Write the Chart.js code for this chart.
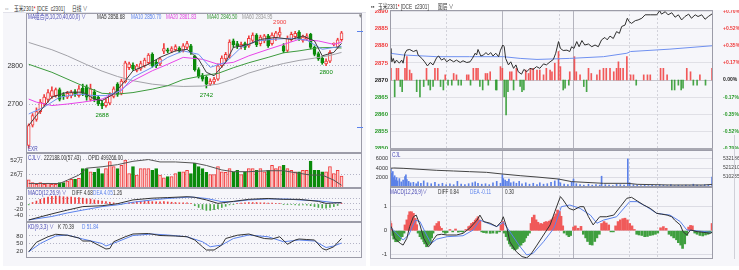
<!DOCTYPE html>
<html><head><meta charset="utf-8">
<script src="https://cdn.jsdelivr.net/npm/chart.js@4.4.1/dist/chart.umd.min.js"></script>
<style>
html,body{margin:0;padding:0;background:#fff;}
body{width:739px;height:270px;position:relative;overflow:hidden;}
.a{position:absolute;}
.t{position:absolute;font-size:6.5px;line-height:7px;white-space:nowrap;color:#333;font-family:"Liberation Sans","Noto Sans CJK SC",sans-serif;transform:scaleX(0.72);transform-origin:0 0;z-index:5;}
canvas{position:absolute;}
</style></head><body>
<div class="a" style="left:3px;top:12px;width:363px;height:254px;background:#f6f6fa"></div>
<div class="a" style="left:370px;top:10px;width:369px;height:256px;background:#f6f6fa"></div>
<div class="a" style="left:3px;top:1px;width:363px;height:11px;background:#fff;border-bottom:1px solid #e2e2ea"></div>
<div class="a" style="left:370px;top:0px;width:369px;height:10px;background:#fff"></div>

<script>
// ---------------- DAILY (left) DATA ----------------
const tickLabels = ['2022/08/01','2022/09/01','2022/10/10','2022/11/01','2022/11/24'];
const tickIdx = [4, 27, 47, 63, 81];
const open  = [2592,2645,2660,2680,2700,2712,2720,2722,2738,2725,2718,2722,2732,2722,2742,2745,2712,2732,2718,2702,2696,2702,2720,2752,2728,2758,2795,2802,2788,2792,2800,2808,2830,2810,2805,2838,2842,2838,2842,2846,2840,2848,2852,2825,2790,2775,2770,2752,2758,2765,2800,2818,2825,2865,2858,2850,2858,2852,2866,2880,2858,2865,2878,2858,2872,2880,2852,2840,2868,2876,2888,2866,2870,2882,2848,2832,2820,2805,2812,2856,2850,2868];
const high  = [2648,2675,2690,2712,2725,2738,2745,2742,2742,2730,2733,2736,2738,2748,2752,2750,2752,2738,2722,2708,2712,2730,2745,2756,2765,2812,2810,2808,2804,2812,2820,2832,2834,2815,2822,2858,2846,2850,2855,2850,2858,2864,2856,2828,2795,2780,2774,2766,2770,2805,2826,2835,2868,2870,2864,2862,2862,2878,2886,2884,2880,2882,2882,2886,2890,2900,2858,2878,2888,2890,2892,2880,2884,2885,2852,2836,2825,2818,2840,2860,2872,2890];
const low   = [2585,2640,2655,2675,2695,2705,2715,2718,2708,2712,2714,2716,2720,2718,2722,2710,2708,2706,2696,2688,2692,2698,2716,2720,2724,2755,2790,2788,2784,2788,2796,2804,2796,2795,2800,2832,2834,2834,2838,2834,2836,2844,2830,2786,2768,2760,2742,2748,2752,2762,2796,2812,2820,2848,2845,2844,2842,2848,2860,2850,2852,2860,2848,2854,2866,2875,2834,2836,2864,2870,2866,2862,2866,2844,2826,2814,2804,2800,2808,2852,2846,2864];
const close = [2644,2670,2680,2705,2718,2730,2735,2738,2712,2720,2728,2730,2725,2740,2728,2718,2740,2712,2700,2695,2705,2725,2740,2725,2760,2808,2805,2792,2800,2806,2815,2828,2800,2800,2818,2845,2838,2845,2850,2838,2852,2858,2835,2790,2772,2765,2752,2760,2765,2800,2820,2830,2862,2855,2852,2856,2848,2872,2880,2855,2875,2878,2852,2880,2886,2888,2838,2872,2882,2885,2870,2875,2878,2848,2830,2818,2808,2812,2835,2857,2868,2886];
const volWan = [15,10,7,10,7,9,7,7,10,10,13,16,16,18,36,36,30,29,36,27,36,49,40,36,42,52,27,40,24,36,36,36,33,36,24,19,21,21,27,30,30,33,27,46,40,36,29,25,25,40,30,29,36,30,33,25,30,36,36,33,36,30,33,42,36,40,42,36,33,30,30,33,33,50,33,33,30,30,40,27,33,22];
const oiWan = [[0,51.0],[8,51.0],[10,53.1],[13,56.3],[15,60.6],[19,61.5],[23,62.8],[27,64.9],[31,66.0],[34,64.5],[38,64.5],[43,63.8],[46,62.3],[50,59.5],[53,58.4],[57,58.4],[62,59.0],[66,59.0],[70,57.4],[73,56.3],[76,56.3],[79,53.1],[81,49.93]];
const ma5  = [[0,2644],[2,2670],[6,2718],[10,2731],[14,2731],[17,2713],[19,2709],[22,2726],[25,2761],[27,2787],[31,2804],[34,2822],[38,2839],[41,2843],[44,2817],[46,2783],[48,2774],[51,2809],[53,2848],[57,2856],[60,2869],[64,2874],[68,2869],[71,2878],[74,2865],[76,2826],[79,2835],[81,2858.68]];
const ma10 = [[0,2674],[4,2692],[8,2718],[13,2726],[17,2722],[20,2722],[24,2735],[27,2770],[32,2796],[36,2822],[40,2839],[44,2830],[47,2796],[51,2809],[55,2848],[59,2865],[63,2869],[68,2872],[72,2867],[76,2843],[79,2848],[81,2850.7]];
const ma20 = [[0,2713],[2,2705],[6,2696],[10,2700],[14,2705],[19,2713],[23,2731],[27,2761],[32,2787],[36,2804],[40,2822],[45,2817],[49,2804],[53,2809],[57,2826],[62,2843],[66,2856],[70,2869],[75,2865],[79,2856],[81,2861.83]];
const ma40 = [[0,2804],[6,2783],[13,2752],[19,2728],[23,2726],[27,2730],[32,2739],[36,2748],[40,2764],[45,2774],[49,2780],[53,2795],[57,2808],[62,2822],[66,2834],[70,2839],[75,2847],[79,2848],[81,2846.5]];
const ma60 = [[0,2861],[6,2842],[10,2826],[15,2803],[19,2786],[23,2772],[27,2761],[32,2752],[36,2748],[40,2746],[45,2747],[49,2752],[53,2765],[57,2781],[62,2796],[66,2806],[70,2814],[74,2820],[78,2827],[81,2834.95]];
const macdHist = [-3,5,10,16,20,24,26,27,26,25,24,24,22,22,20,18,17,14,12,10,8,6,4,2,-2,2,4,6,8,9,10,10,8,7,7,8,7,6,5,4,4,4,2,-6,-12,-18,-22,-22,-20,-16,-12,-8,-3,-1,2,3,4,5,5,5,4,4,3,3,2,2,-1,-1,-2,-3,-4,-3,-4,-6,-9,-12,-14,-14,-12,-9,-5,1.26];
const diffD = [[0,-55],[6,-34],[10,-21],[14,-9],[19,-6],[23,1],[27,14],[32,20],[36,22],[41,25],[43,23],[46,14],[49,2],[53,9],[57,16],[62,19],[66,16],[70,16],[75,9],[77,2],[81,4.68]];
const deaD  = [[0,-55],[6,-43],[10,-31],[14,-21],[19,-9],[23,-3],[27,6],[32,14],[36,19],[42,24],[46,19],[50,8],[53,8],[57,14],[62,17],[67,17],[70,14],[75,11],[79,5],[81,4.05]];
const kD = [[0,17],[2,55],[5,77],[7,87],[10,83],[13,72],[14,60],[16,60],[18,44],[20,28],[21,30],[22,57],[25,77],[27,88],[31,90],[34,82],[38,80],[41,77],[43,64],[45,37],[46,24],[48,24],[50,44],[51,70],[54,83],[57,88],[61,70],[63,68],[65,77],[67,47],[69,64],[70,68],[72,66],[74,64],[76,30],[77,24],[79,37],[81,70.39]];
const dD = [[0,17],[3,50],[7,80],[10,84],[14,68],[19,50],[20,40],[23,57],[27,82],[32,88],[36,84],[41,77],[45,57],[47,37],[50,44],[53,70],[57,84],[62,77],[66,57],[70,64],[74,60],[77,34],[79,40],[81,51.84]];
const markIdx = [19, 46, 65, 77];
const markType = ['low','low','high','low'];

// ---------------- INTRADAY (right) DATA ----------------
const REF = 2870;
const timeTicks = [0, 60, 120, 180, 225, 285, 345];
const timeLabels = ['21:00','22:00','9:00','10:00','11:00','14:00','15:00'];
const vlineMin = [60, 120, 180, 195, 255, 285];
const vlineStrong = [false, true, false, true, false, false];
const pricePts = [[0,2879.2],[1,2877.8],[2,2875.3],[3.5,2876.3],[5,2874.9],[7,2875.8],[10,2874.9],[12.5,2875.8],[14,2874.9],[16,2877.8],[18,2878.7],[21,2878.9],[25,2878.3],[28.5,2878.7],[30,2877.3],[34,2876.3],[37,2875.3],[40,2874.1],[43,2875.1],[46,2874.4],[50,2876.6],[52,2877.0],[55,2875.8],[58,2876.3],[60.5,2875.3],[64,2876.0],[68,2875.3],[71,2875.8],[75,2875.1],[78,2875.6],[82,2875.1],[85.5,2875.3],[88,2876.3],[91,2877.8],[92.5,2877.3],[94,2878.9],[97,2877.0],[100,2877.3],[102.5,2878.0],[105,2877.3],[107.5,2878.0],[110,2877.0],[113,2877.8],[116,2876.8],[118,2878.7],[120.5,2880.2],[122,2879.7],[123.5,2876.3],[126.5,2874.4],[129,2875.3],[132,2873.4],[134.5,2874.4],[137,2872.4],[140.5,2871.7],[143,2873.1],[146,2872.4],[149.5,2873.4],[153,2873.1],[156.5,2873.9],[160,2873.4],[164,2874.7],[167,2874.4],[171,2875.3],[174.5,2876.0],[177,2877.8],[180,2881.2],[182,2879.2],[185,2878.6],[189,2878.7],[192,2878.3],[194,2879.7],[196.5,2879.2],[199.5,2881.2],[202,2879.7],[205,2881.5],[208,2880.2],[212,2880.5],[215.5,2879.7],[219,2880.2],[222.5,2879.7],[226,2881.7],[229.5,2882.4],[232,2881.7],[235,2882.8],[238.5,2882.1],[242,2884.1],[245,2883.6],[247.5,2885.6],[251,2886.0],[253.5,2888.0],[255.5,2887.0],[258,2886.5],[262,2887.3],[265,2887.5],[269,2888.0],[272.5,2889.0],[278,2889.0],[285,2889.0],[288,2890.2],[290,2889.2],[294,2889.9],[297,2889.0],[301,2889.6],[304.5,2888.3],[308,2889.0],[311.5,2887.5],[315,2888.5],[319,2889.2],[322,2888.0],[326,2889.0],[329,2888.5],[333,2889.0],[336.5,2887.7],[340,2888.5],[344.7,2889.4]];
const avgPts = [[0,2877.8],[14,2877.3],[50,2876.8],[85,2876.8],[121,2876.8],[139,2876.3],[157,2876.0],[192,2876.3],[228,2876.8],[253,2877.8],[257,2878.3],[299,2879.0],[345,2880.0]];
const diffBars = [[1,3.4],[5,-4.9],[7,3.4],[9,3.4],[11,-1.9],[13,-3.4],[16,3.4],[18,6.8],[21,2.9],[23,1.9],[28.5,-3.4],[32,-4.9],[36,-1.9],[39,3.4],[41,-1.5],[43,-2.9],[46,-1.9],[48,3.4],[51,3.4],[54,-1.9],[57,-2.9],[59,1.5],[62,-1.5],[66,-1.5],[68,1.9],[71,1.5],[73,-1.5],[76,-1.5],[82,1.5],[84,1.5],[86,-1.5],[89,3.4],[92,3.4],[94,3.4],[96,-1.9],[99,-2.9],[102,1.9],[104,1.9],[105,-1.5],[107,2.4],[113,-2.9],[114,-2.9],[118,3.9],[120,3.4],[122,-4.9],[124,-10.2],[126,-3.4],[128,2.4],[130,2.4],[132,-2.9],[135,3.4],[139,-1.9],[141,-3.4],[143,-2.9],[145,2.9],[148,1.9],[150,3.4],[153,3.4],[157,2.9],[160,2.9],[164,1.5],[167,3.4],[171,2.9],[173,2.4],[176,4.9],[180,8.3],[182,3.9],[185,-2.9],[187,-2.4],[191,-1.5],[192,2.4],[197,6.8],[199,2.4],[203,1.5],[207,-1.9],[210,-3.4],[212,3.4],[215,1.9],[221,1.5],[224,2.9],[228,3.4],[231,3.4],[235,3.4],[239,2.4],[242,3.4],[244,5.3],[246,3.4],[249,3.4],[253,6.8],[257,1.5],[260,1.5],[263,-1.5],[271,1.5],[275,1.5],[278,1.5],[289,3.4],[292,3.4],[296,1.5],[301,-2.9],[304,-2.9],[308,-1.5],[311,-2.9],[313,-2.4],[317,3.4],[321,2.4],[324,-1.5],[328,-1.5],[331,1.5],[337,-1.5],[344,3.4]];
const volPts = [[0,6500],[1,3800],[2,2900],[3,3300],[4,2000],[5,2400],[6,1500],[7,2000],[8,1300],[10,1800],[12,1100],[14,1500],[16,2200],[17,2600],[18,1600],[20,1200],[22,900],[25,1000],[28,700],[30,1100],[33,800],[36,1300],[40,900],[44,700],[48,1000],[52,600],[56,800],[60,500],[64,700],[68,500],[72,1200],[76,600],[80,500],[84,700],[88,900],[91,1100],[94,800],[98,600],[102,700],[106,500],[110,900],[114,1200],[118,800],[120,2600],[121,1800],[123,1500],[125,1200],[127,1700],[129,900],[132,1100],[135,800],[138,1200],[141,700],[145,900],[149,600],[153,800],[157,500],[160,900],[164,600],[168,700],[172,1000],[176,1300],[180,1700],[182,900],[186,600],[190,500],[194,1100],[196,1700],[199,700],[203,500],[207,400],[212,600],[216,400],[220,500],[224,400],[226,2300],[230,500],[234,400],[238,300],[242,600],[246,500],[250,400],[254,6000],[256,900],[260,500],[264,400],[268,300],[272,500],[276,300],[280,400],[284,300],[288,500],[292,400],[296,300],[300,500],[304,300],[308,400],[312,300],[316,400],[320,300],[324,600],[328,400],[332,300],[336,500],[340,400],[344,2100]];
const oiPts = [[0,520600],[4,521000],[14,520600],[32,519400],[50,518200],[68,517400],[85,516600],[103,515800],[120,513800],[139,511800],[157,510200],[180,507800],[194,504700],[228,502700],[254,502700],[264,501500],[299,500700],[335,500700],[345,501500]];
const oiTicks = [510235, 521210, 532186];
const iDiff = [[0,0.24],[2,0.10],[5,-0.32],[11,-0.53],[14,-0.6],[18,-0.32],[21,0.17],[25,0.58],[28,0.65],[32,0.24],[36,-0.32],[41,-0.67],[43,-0.6],[46,-0.39],[50,-0.18],[55,-0.15],[61,-0.18],[71,-0.18],[78,-0.11],[85,0.10],[93,0.44],[96,0.65],[100,0.38],[107,0.31],[114,0.17],[119,0.38],[121,0.58],[125,0.10],[128,-0.46],[135,-0.88],[141,-1.08],[146,-1.13],[150,-1.01],[157,-0.6],[164,-0.18],[171,0.24],[176,0.79],[182,1.42],[185,1.28],[191,0.93],[196,0.86],[203,1.0],[207,1.0],[212,0.58],[217,0.24],[224,0.58],[231,0.58],[239,0.65],[246,1.0],[253,1.35],[258,1.39],[264,1.24],[271,1.07],[278,0.93],[285,0.72],[290,0.69],[296,0.65],[301,0.58],[304,0.44],[310,0.24],[313,-0.04],[317,-0.18],[321,0.03],[328,-0.04],[335,-0.07],[342,-0.11],[345,-0.04]];
const iDea = [[0,0.17],[7,-0.11],[14,-0.39],[20,-0.18],[27,0.44],[32,0.38],[39,-0.18],[44,-0.53],[50,-0.35],[61,-0.25],[78,-0.21],[89,0.03],[96,0.44],[103,0.33],[114,0.17],[121,0.35],[128,-0.04],[139,-0.67],[146,-1.01],[153,-0.94],[164,-0.46],[175,0.10],[183,1.0],[192,1.07],[203,0.93],[214,0.65],[221,0.31],[228,0.44],[242,0.58],[256,1.21],[264,1.21],[274,1.0],[285,0.72],[299,0.65],[310,0.38],[317,0.03],[328,-0.01],[345,-0.07]];
const iHist = [[0,0.4],[1,0.3],[3,-0.2],[4,-0.35],[6,-0.46],[8,-0.46],[10,-0.42],[11,-0.35],[13,-0.25],[15,-0.1],[16,0.24],[18,0.45],[20,0.65],[21,0.79],[23,0.79],[25,0.72],[27,0.51],[28.5,0.25],[30,-0.1],[32,-0.25],[34,-0.35],[36,-0.46],[37,-0.55],[39,-0.67],[41,-0.6],[43,-0.53],[44.5,-0.3],[46,-0.1],[48,0.2],[50,0.3],[52,0.38],[53,0.17],[55,0.1],[57,-0.06],[59,-0.11],[61,-0.08],[64,0.05],[67,-0.05],[70,0.07],[73,-0.06],[75.5,-0.04],[78,-0.06],[81,0.05],[84,0.17],[85.5,0.2],[87,0.3],[89,0.35],[91,0.44],[92.5,0.5],[94,0.58],[96,0.44],[98,-0.05],[100,-0.08],[103,-0.1],[107,-0.11],[110,-0.1],[114,-0.11],[117,-0.05],[118.5,0.25],[120.5,0.38],[122,-0.1],[124,-0.25],[126,-0.4],[127.5,-0.55],[129,-0.65],[131,-0.75],[133,-0.8],[134.6,-0.78],[136,-0.74],[138,-0.65],[140,-0.6],[142,-0.5],[143.5,-0.45],[145,-0.3],[147,-0.2],[149,-0.1],[150.6,0.3],[152,0.55],[154,0.65],[156,0.45],[158,0.35],[159.5,0.25],[161,0.3],[163,0.28],[165,0.35],[166.7,0.38],[168.5,0.35],[170,0.4],[172,0.45],[174,0.5],[175.5,0.58],[177,0.7],[179,0.86],[181,0.8],[182.7,0.6],[184.5,0.2],[186,-0.1],[189,-0.18],[191,-0.25],[193,-0.2],[196,0.15],[198,0.2],[201,0.1],[204,0.18],[206.5,-0.15],[209,-0.3],[211,-0.45],[213.7,-0.58],[216,-0.6],[218.7,-0.45],[221,-0.3],[223.6,-0.15],[226,0.3],[228.6,0.38],[231,0.32],[233.6,0.24],[236,-0.05],[238.6,-0.05],[241,0.2],[243.6,0.38],[246,0.45],[248.6,0.5],[251,0.52],[253.6,0.45],[256,0.3],[258.5,0.2],[261,0.05],[263.5,-0.15],[266,-0.18],[269,-0.2],[272,-0.25],[275,-0.24],[278,-0.2],[280.6,-0.18],[283.5,-0.15],[286,-0.1],[289,0.12],[292,0.17],[295,0.1],[298,-0.15],[300.6,-0.22],[303,-0.3],[306,-0.38],[308,-0.5],[310.5,-0.6],[312.5,-0.74],[314.8,-0.55],[317,-0.2],[319,0.15],[321,0.22],[323,0.2],[325.5,-0.1],[328,-0.15],[331,-0.2],[334,-0.22],[337,-0.18],[339.7,-0.15],[342,-0.1],[344,0.3]];

// ---------------- HELPERS ----------------
const RED = '#f03c3c', GREEN = '#0a8a0a', BG = '#f6f6fa', BLUE = '#5b82ec';
const FONT = '"Liberation Sans","DejaVu Sans",sans-serif';
Chart.defaults.font.family = FONT;
Chart.defaults.font.size = 6;
Chart.defaults.color = '#333';

function fitW(w){ return s => { s.width = w; s.paddingTop = 0; s.paddingBottom = 0; s.paddingLeft = 0; s.paddingRight = 0; }; }
function fitH(h){ return s => { s.height = h; s.paddingTop = 0; s.paddingBottom = 0; s.paddingLeft = 0; s.paddingRight = 0; }; }
function setTicks(arr){ return s => { s.ticks = arr.map(v => ({value: v})); }; }
const P = arr => arr.map(([x, y]) => ({x, y}));
const plain = v => String(v);

const frame = { id: 'frame', afterDraw(ch){ const c = ch.ctx, r = ch.chartArea; c.save(); c.strokeStyle = '#9c9ca8'; c.lineWidth = 1;
  c.strokeRect(Math.round(r.left) + 0.5, Math.round(r.top) + 0.5, Math.round(r.right - r.left) - 1, Math.round(r.bottom - r.top) - 1); c.restore(); } };
const vlines = { id: 'vlines', beforeDatasetsDraw(ch){ const c = ch.ctx, xs = ch.scales.x, r = ch.chartArea; c.save(); c.lineWidth = 1;
  vlineMin.forEach((m, k) => { const px = Math.round(xs.getPixelForValue(m)) + 0.5; c.strokeStyle = vlineStrong[k] ? '#b4b4be' : '#d2d2da'; c.setLineDash(vlineStrong[k] ? [] : [2, 2]);
  c.beginPath(); c.moveTo(px, r.top); c.lineTo(px, r.bottom); c.stroke(); }); c.restore(); } };
const marks = { id: 'marks', afterDatasetsDraw(ch){ const c = ch.ctx, xs = ch.scales.x, ys = ch.scales.y; c.save(); c.font = '6px ' + FONT; c.textAlign = 'center'; c.textBaseline = 'middle';
  markIdx.forEach((i, k) => { const hi = markType[k] === 'high'; const v = hi ? high[i] : low[i]; c.fillStyle = hi ? RED : GREEN;
  c.fillText(String(v), xs.getPixelForValue(i), ys.getPixelForValue(v) + (hi ? -5 : 7)); }); c.restore(); } };

function mk(left, top, w, h, cfg){
  const cv = document.createElement('canvas'); cv.width = w; cv.height = h;
  cv.style.left = left + 'px'; cv.style.top = top + 'px'; cv.style.width = w + 'px'; cv.style.height = h + 'px';
  document.body.appendChild(cv);
  cfg.options = Object.assign({ responsive: false, maintainAspectRatio: false, animation: false, devicePixelRatio: 1, events: [],
    plugins: { legend: { display: false }, tooltip: { enabled: false } } }, cfg.options);
  return new Chart(cv, cfg);
}
function xLeft(show){
  return { type: 'linear', min: -0.7, max: 86.3, offset: false, display: show, grid: { display: false }, border: { display: false },
    afterBuildTicks: setTicks(tickIdx), afterFit: fitH(show ? 12 : 0),
    ticks: { autoSkip: false, maxRotation: 0, color: '#777', padding: 3, font: { size: 5.5 }, callback: (v, i) => tickLabels[i] } };
}
function yAx(min, max, tk, cb, fsize){
  return { type: 'linear', position: 'left', min, max, afterBuildTicks: setTicks(tk), afterFit: fitW(26),
    grid: { color: '#b4b4c6', drawTicks: false }, border: { display: false, dash: [1, 2] },
    ticks: { padding: 3, color: '#333', autoSkip: false, font: { size: fsize || 6 }, callback: cb || plain } };
}
function xRight(show){
  return { type: 'linear', min: 0, max: 345, offset: false, display: true, grid: { display: false }, border: { display: false },
    afterBuildTicks: setTicks(timeTicks), afterFit: fitH(show ? 11 : 0),
    ticks: { display: show, autoSkip: false, maxRotation: 0, color: '#777', padding: 3, font: { size: 5.5 }, callback: (v, i) => timeLabels[i] } };
}
const idx = open.map((_, i) => i);
const isUp = i => close[i] >= open[i];
const line = (data, color, axis) => ({ type: 'line', data, borderColor: color, borderWidth: 1, pointRadius: 0, tension: 0, yAxisID: axis || 'y', order: 0 });

// ---------------- LEFT: MAIN CANDLES ----------------
mk(0, 13, 366, 140, { type: 'bar', data: { datasets: [
  line(P(ma5), '#3c3c3c'), line(P(ma10), '#6f92ee'), line(P(ma20), '#e844e8'), line(P(ma40), '#3d9a3d'), line(P(ma60), '#a2a2a8'),
  { type: 'bar', order: 5, grouped: false, barThickness: 1, borderWidth: 0, data: idx.map(i => ({x: i, y: [Math.max(open[i], close[i]), high[i]]})), backgroundColor: idx.map(i => isUp(i) ? RED : GREEN) },
  { type: 'bar', order: 5, grouped: false, barThickness: 1, borderWidth: 0, data: idx.map(i => ({x: i, y: [low[i], Math.min(open[i], close[i])]})), backgroundColor: idx.map(i => isUp(i) ? RED : GREEN) },
  { type: 'bar', order: 4, grouped: false, barThickness: 3, borderWidth: 1, borderSkipped: false, minBarLength: 1, data: idx.map(i => ({x: i, y: [open[i], close[i]]})),
    backgroundColor: idx.map(i => isUp(i) ? BG : GREEN), borderColor: idx.map(i => isUp(i) ? RED : GREEN) }
]}, options: { layout: { padding: { right: 4 } }, scales: { x: xLeft(false), y: yAx(2572, 2938, [2700, 2800], plain, 7) } }, plugins: [frame, marks] });

// ---------------- LEFT: VOLUME ----------------
mk(0, 153, 366, 35, { type: 'bar', data: { datasets: [
  line(P(oiWan), '#555', 'oi'),
  { type: 'bar', order: 5, grouped: false, barThickness: 3, borderWidth: 1, borderSkipped: false, data: idx.map(i => ({x: i, y: volWan[i]})),
    backgroundColor: idx.map(i => isUp(i) ? '#fbd0d0' : GREEN), borderColor: idx.map(i => isUp(i) ? RED : GREEN) }
]}, options: { layout: { padding: { right: 4 } }, scales: { x: xLeft(false), y: yAx(0, 65, [26, 52], v => v + '万'),
  oi: { type: 'linear', display: false, min: 48.2, max: 70.1 } } }, plugins: [frame] });

// ---------------- LEFT: MACD ----------------
mk(0, 188, 366, 34, { type: 'bar', data: { datasets: [
  line(P(diffD), '#333'), line(P(deaD), BLUE),
  { type: 'bar', order: 5, grouped: false, barThickness: 1, borderWidth: 0, data: idx.map(i => ({x: i, y: macdHist[i]})), backgroundColor: idx.map(i => macdHist[i] >= 0 ? RED : '#4aa84a') }
]}, options: { layout: { padding: { right: 4 } }, scales: { x: xLeft(false), y: yAx(-62, 55, [-40, -20, 0, 20]) } }, plugins: [frame] });

// ---------------- LEFT: KD ----------------
mk(0, 222, 366, 48, { type: 'line', data: { datasets: [ line(P(kD), '#333'), line(P(dD), BLUE) ]},
  options: { layout: { padding: { right: 4 } }, scales: { x: xLeft(true), y: yAx(-8, 136, [20, 50, 80]) } }, plugins: [frame] });

// ---------------- RIGHT: PRICE ----------------
const pctCb = v => { const p = (v - REF) / REF * 100; return (p > 0.001 ? '+' : '') + p.toFixed(2) + '%'; };
const pcol = ctx => ctx.tick.value > REF + 0.01 ? RED : (ctx.tick.value < REF - 0.01 ? '#2a9a2a' : '#222');
const priceTicks = [2850, 2855, 2860, 2865, 2870, 2875, 2880, 2885, 2890];
mk(370, 10, 369, 139, { type: 'line', data: { datasets: [
  line(P(pricePts), '#2e2e2e'), line(P(avgPts), '#6f90f0'),
  { type: 'bar', order: 5, grouped: false, barThickness: 1, borderWidth: 0, data: diffBars.map(([m, d]) => ({x: m, y: [REF, REF + d]})),
    backgroundColor: diffBars.map(([m, d]) => d >= 0 ? 'rgba(240,60,60,0.85)' : 'rgba(40,150,40,0.85)') }
]}, options: { scales: { x: xRight(false),
  y: { type: 'linear', position: 'left', min: 2849.9, max: 2890.4, afterBuildTicks: setTicks(priceTicks), afterFit: fitW(20),
       grid: { color: ctx => ctx.tick.value === REF ? '#c4c4cc' : '#e0e0e6', drawTicks: false }, border: { display: false },
       ticks: { padding: 2, autoSkip: false, color: pcol, callback: plain, font: { size: 6, weight: 'bold' } } },
  pct: { type: 'linear', position: 'right', min: 2849.9, max: 2890.4, afterBuildTicks: setTicks(priceTicks), afterFit: fitW(26),
       grid: { display: false }, border: { display: false }, ticks: { padding: 2, autoSkip: false, color: pcol, callback: pctCb, font: { size: 5, weight: 'bold' } } } } },
  plugins: [vlines, frame] });

// ---------------- RIGHT: VOLUME ----------------
mk(370, 150, 369, 37, { type: 'bar', data: { datasets: [
  line(P(oiPts), '#444', 'oi'),
  { type: 'bar', order: 5, grouped: false, barThickness: 1, borderWidth: 0, data: P(volPts), backgroundColor: '#5b80e8' }
]}, options: { scales: { x: xRight(false),
  y: { type: 'linear', position: 'left', min: 0, max: 7900, afterBuildTicks: setTicks([2000, 4000, 6000]), afterFit: fitW(20),
       grid: { color: '#dcdce4', drawTicks: false }, border: { display: false }, ticks: { padding: 2, autoSkip: false, color: '#333', callback: plain, font: { size: 5.5 } } },
  oi: { type: 'linear', position: 'right', min: 498300, max: 542450, afterBuildTicks: setTicks(oiTicks), afterFit: fitW(26),
       grid: { display: false }, border: { display: false }, ticks: { padding: 2, autoSkip: false, color: '#444', callback: plain, font: { size: 5 } } } } },
  plugins: [vlines, frame] });

// ---------------- RIGHT: MACD ----------------
mk(370, 187, 369, 83, { type: 'bar', data: { datasets: [
  line(P(iDiff), '#333'), line(P(iDea), BLUE),
  { type: 'bar', order: 5, grouped: false, barThickness: 2, borderWidth: 0, data: P(iHist), backgroundColor: iHist.map(([m, v]) => v >= 0 ? '#f05a5a' : '#3f9f3f') }
]}, options: { layout: { padding: { right: 26 } }, scales: { x: xRight(true),
  y: { type: 'linear', position: 'left', min: -1.18, max: 1.82, afterBuildTicks: setTicks([-1, 0, 1]), afterFit: fitW(20),
       grid: { color: '#dcdce4', drawTicks: false }, border: { display: false }, ticks: { padding: 3, autoSkip: false, color: '#333', callback: plain, font: { size: 6 } } } } },
  plugins: [vlines, frame] });
</script>

<!-- left texts -->
<div class="t" style="left:5px;top:5px;color:#888">▫▫</div>
<div class="t" style="left:14px;top:5px">玉米2301<span style="color:#e00">*</span> [DCE&nbsp; c2301]</div>
<div class="t" style="left:72px;top:5px">日线 ∨</div>
<div class="t" style="left:28px;top:13px;color:#4a4ab4">MA组合(5,10,20,40,60,0) ∨</div>
<div class="t" style="left:97px;top:13px;color:#333">MA5 2858.68</div>
<div class="t" style="left:131px;top:13px;color:#5b82ec">MA10 2850.70</div>
<div class="t" style="left:166px;top:13px;color:#e040e0">MA20 2861.83</div>
<div class="t" style="left:207px;top:13px;color:#3a9a3a">MA40 2846.50</div>
<div class="t" style="left:242px;top:13px;color:#999">MA60 2834.95</div>
<div class="t" style="left:359px;top:12px;color:#777">▾</div>
<div class="a" style="left:357px;top:31px;width:6px;height:1px;background:#5b82ec"></div>
<div class="a" style="left:357px;top:127px;width:6px;height:1px;background:#5b82ec"></div>
<div class="t" style="left:28px;top:145px;color:#4a4ab4">EXR</div>
<div class="t" style="left:28px;top:154px;color:#4a4ab4">CJL∨</div>
<div class="t" style="left:44px;top:154px">222188.00(57.43)</div>
<div class="t" style="left:88px;top:154px">OPID 499266.00</div>
<div class="t" style="left:28px;top:189px;color:#4a4ab4">MACD(12,26,9) ∨</div>
<div class="t" style="left:72px;top:189px">DIFF 4.68</div>
<div class="t" style="left:93px;top:189px;color:#5b82ec">DEA 4.05</div>
<div class="t" style="left:113px;top:189px">1.26</div>
<div class="t" style="left:28px;top:223px;color:#4a4ab4">KD(9,3,3) ∨</div>
<div class="t" style="left:58px;top:223px">K 70.39</div>
<div class="t" style="left:82px;top:223px;color:#5b82ec">D 51.84</div>
<!-- right texts -->
<div class="t" style="left:371px;top:3px;color:#555">▪▪</div>
<div class="t" style="left:378px;top:3px">玉米2301<span style="color:#e00">*</span> [DCE&nbsp; c2301]</div>
<div class="t" style="left:438px;top:3px">图层 ∨</div>
<div class="a" style="left:390px;top:148px;width:323px;height:2px;background:#a8a8b2;z-index:4"></div>
<div class="t" style="left:392px;top:151px;color:#4a4ab4">CJL</div>
<div class="t" style="left:390px;top:188px;color:#4a4ab4">MACD(12,26,9)∨</div>
<div class="t" style="left:438px;top:188px">DIFF 0.84</div>
<div class="t" style="left:470px;top:188px;color:#5b82ec">DEA -0.11</div>
<div class="t" style="left:505px;top:188px">0.30</div>
<div class="a" style="left:734px;top:135px;width:1px;height:124px;background:#d0d0d8"></div>
</body></html>
